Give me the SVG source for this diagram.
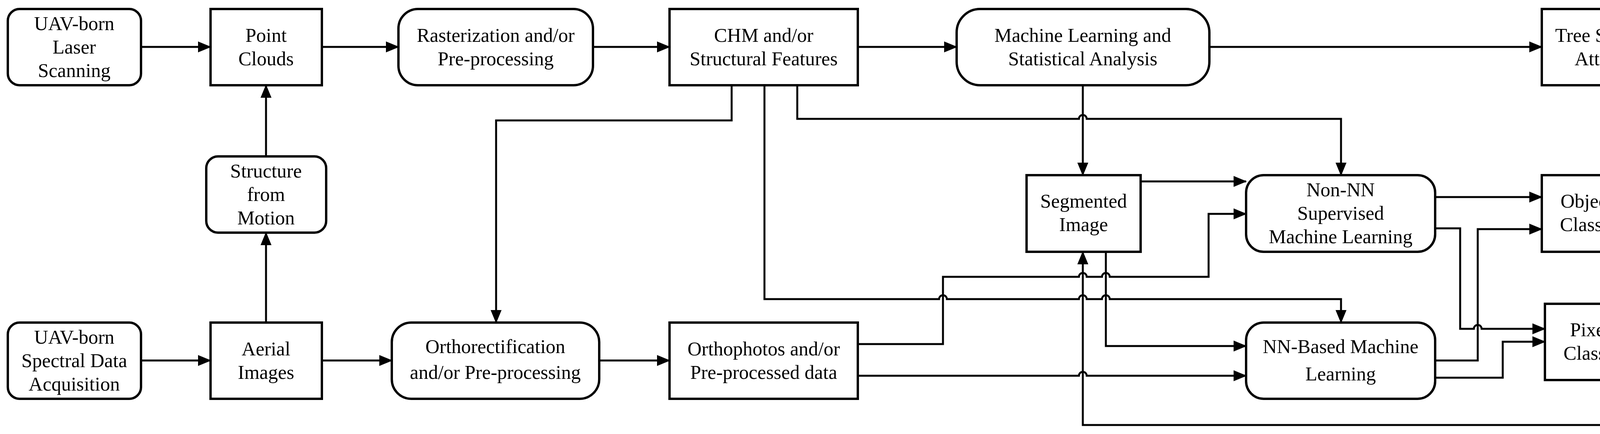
<svg xmlns="http://www.w3.org/2000/svg" width="4331" height="1110" viewBox="0 0 4331 1110" style="display:block;overflow:hidden">
<style>
.b{fill:#fff;stroke:#000;stroke-width:6}
.t{font-family:"Liberation Serif",serif;font-size:50px;text-anchor:middle;fill:#000}
.c{fill:none;stroke:#000;stroke-width:5}
</style>
<defs><marker id="a" markerUnits="userSpaceOnUse" markerWidth="34" markerHeight="28" refX="32" refY="14" orient="auto"><path d="M0,0L34,14L0,28z" fill="#000"/></marker></defs>
<rect width="4331" height="1110" fill="#fff"/>
<g id="connectors" class="c" marker-end="url(#a)">
<path d="M361 120H539"/><path d="M824 120H1020"/><path d="M1518 120H1714"/><path d="M2196 120H2449"/><path d="M3096 120H3947"/>
<path d="M681 825V595"/><path d="M681 400V218"/>
<path d="M361 922H539"/><path d="M824 922H1003"/><path d="M1534 922H1714"/>
<path d="M1873 218V308H1270V825"/>
<path d="M2041 218V304H2762a10 10 0 0 1 20 0H3433V448"/>
<path d="M2772 218V448"/>
<path d="M1957 218V765H2404a10 10 0 0 1 20 0H2762a10 10 0 0 1 20 0H2821a10 10 0 0 1 20 0H3433V825"/>
<path d="M2196 880H2414V708H2762a10 10 0 0 1 20 0H2821a10 10 0 0 1 20 0H3094V547H3190"/>
<path d="M2831 644V885H3190"/>
<path d="M2196 961H2762a10 10 0 0 1 20 0H3190"/>
<path d="M4141 972V1087H2772V644"/>
<path d="M2920 464H3190"/>
<path d="M3674 504H3947"/>
<path d="M3674 584H3738V841H3773a10 10 0 0 1 20 0H3955"/>
<path d="M3674 922H3783V586H3947"/>
<path d="M3674 966H3847V874H3955"/>
</g>
<g id="laser"><rect class="b" x="20" y="23" width="341" height="195" rx="30"/><text class="t" x="190" y="77">UAV-born</text><text class="t" x="190" y="137">Laser</text><text class="t" x="190" y="197">Scanning</text></g>
<g id="pc"><rect class="b" x="539" y="23" width="285" height="195"/><text class="t" x="681" y="107">Point</text><text class="t" x="681" y="167">Clouds</text></g>
<g id="raster"><rect class="b" x="1020" y="23" width="498" height="195" rx="50"/><text class="t" x="1269" y="107">Rasterization and/or</text><text class="t" x="1269" y="167">Pre-processing</text></g>
<g id="chm"><rect class="b" x="1714" y="23" width="482" height="195"/><text class="t" x="1955" y="107">CHM and/or</text><text class="t" x="1955" y="167">Structural Features</text></g>
<g id="ml"><rect class="b" x="2449" y="23" width="647" height="195" rx="60"/><text class="t" x="2772" y="107">Machine Learning and</text><text class="t" x="2772" y="167">Statistical Analysis</text></g>
<g id="tree"><rect class="b" x="3947" y="23" width="368" height="195"/><text class="t" x="4131" y="107">Tree Structural</text><text class="t" x="4131" y="167">Attributes</text></g>
<g id="sfm"><rect class="b" x="528" y="400" width="307" height="195" rx="30"/><text class="t" x="681" y="454">Structure</text><text class="t" x="681" y="514">from</text><text class="t" x="681" y="574">Motion</text></g>
<g id="seg"><rect class="b" x="2628" y="448" width="292" height="196"/><text class="t" x="2774" y="531">Segmented</text><text class="t" x="2774" y="591">Image</text></g>
<g id="nonnn"><rect class="b" x="3190" y="448" width="484" height="196" rx="45"/><text class="t" x="3432" y="502">Non-NN</text><text class="t" x="3432" y="562">Supervised</text><text class="t" x="3432" y="622">Machine Learning</text></g>
<g id="obj"><rect class="b" x="3947" y="448" width="368" height="196"/><text class="t" x="4131" y="531">Object-Based</text><text class="t" x="4131" y="591">Classification</text></g>
<g id="pix"><rect class="b" x="3955" y="777" width="370" height="195"/><text class="t" x="4140" y="860">Pixel-Based</text><text class="t" x="4140" y="920">Classification</text></g>
<g id="spectral"><rect class="b" x="20" y="825" width="341" height="195" rx="30"/><text class="t" x="190" y="879">UAV-born</text><text class="t" x="190" y="939">Spectral Data</text><text class="t" x="190" y="999">Acquisition</text></g>
<g id="aerial"><rect class="b" x="539" y="825" width="285" height="195"/><text class="t" x="681" y="909">Aerial</text><text class="t" x="681" y="969">Images</text></g>
<g id="ortho"><rect class="b" x="1003" y="825" width="531" height="195" rx="50"/><text class="t" x="1268" y="903">Orthorectification</text><text class="t" x="1268" y="969">and/or Pre-processing</text></g>
<g id="photos"><rect class="b" x="1714" y="825" width="482" height="195"/><text class="t" x="1955" y="909">Orthophotos and/or</text><text class="t" x="1955" y="969">Pre-processed data</text></g>
<g id="nn"><rect class="b" x="3190" y="825" width="484" height="195" rx="45"/><text class="t" x="3432" y="903">NN-Based Machine</text><text class="t" x="3432" y="973">Learning</text></g>
</svg>
